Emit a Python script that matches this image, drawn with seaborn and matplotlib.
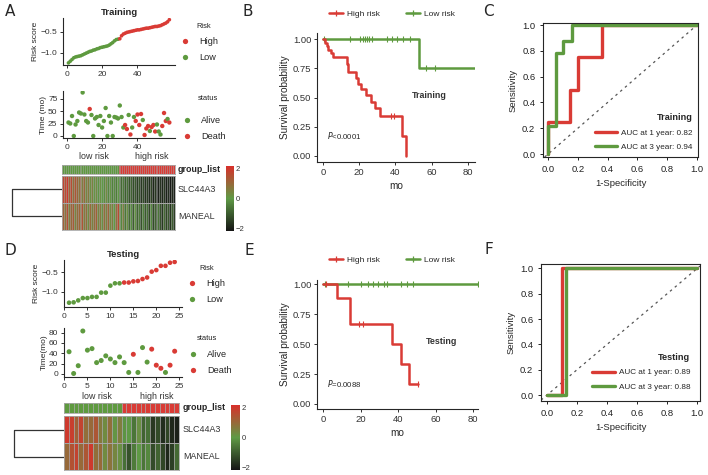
import numpy as np
import matplotlib
matplotlib.use("Agg")
import matplotlib.pyplot as plt
import seaborn as sns
from matplotlib.colors import LinearSegmentedColormap, ListedColormap
from matplotlib.lines import Line2D

# ---------------- training cohort ----------------
train_risk = [-1.24, -1.20, -1.16, -1.12, -1.10, -1.09, -1.08, -1.07, -1.05, -1.03,
              -1.01, -0.99, -0.97, -0.96, -0.94, -0.93, -0.91, -0.90, -0.88, -0.87,
              -0.86, -0.85, -0.84, -0.82, -0.79, -0.76, -0.72, -0.69, -0.68, -0.67,
              -0.60, -0.56, -0.54, -0.52, -0.51, -0.50, -0.49, -0.48, -0.47, -0.46,
              -0.46, -0.45, -0.44, -0.43, -0.42, -0.42, -0.41, -0.40, -0.39, -0.38,
              -0.38, -0.37, -0.36, -0.34, -0.32, -0.30, -0.27, -0.22]
train_time = [27, 25, 40, 0, 23, 30, 47, 45, 87, 43,
              30, 27, 54, 42, 0, 35, 38, 22, 40, 17,
              30, 56, 0, 40, 27, 0, 38, 37, 35, 61,
              38, 17, 22, 14, 42, 3, 17, 38, 30, 43,
              22, 44, 32, 2, 15, 20, 10, 18, 22, 9,
              23, 9, 3, 20, 46, 30, 34, 27]
train_death = [0, 0, 0, 0, 0, 0, 0, 0, 0, 0,
               0, 0, 1, 0, 0, 0, 0, 0, 0, 0,
               0, 0, 0, 0, 0, 0, 0, 0, 0, 0,
               0, 0, 1, 1, 0, 1, 0, 0, 1, 1,
               1, 1, 0, 1, 1, 1, 0, 1, 1, 1,
               0, 0, 0, 1, 1, 1, 0, 1]
train_slc44a3 = [1.8, 1.5, 2.0, 1.2, 1.6, 0.9, 1.4, 1.1, 0.8, 1.3,
                 0.6, 1.0, 0.4, 0.7, 0.2, 0.5, 0.1, 0.3, -0.1, 0.2,
                 0.0, -0.2, 0.3, -0.3, 0.1, -0.4, -0.2, -0.5, 0.0, -0.6,
                 -0.8, -0.5, -1.0, -0.7, -1.2, -0.9, -1.3, -1.1, -1.5, -1.2,
                 -1.6, -1.3, -1.7, -1.5, -1.8, -1.4, -1.9, -1.6, -1.8, -2.0,
                 -1.7, -1.9, -1.6, -2.0, -1.8, -2.1, -1.9, -2.0]
train_maneal = [1.2, 0.8, 1.5, 0.6, 1.0, 1.3, 0.5, 0.9, 1.1, 0.7,
                1.4, 0.6, 0.9, 0.3, 1.0, 0.5, 0.8, 1.2, 0.4, 0.7,
                0.2, 0.9, 0.5, 1.1, 0.3, 0.6, 0.0, 0.8, 1.6, 0.4,
                -0.3, 0.5, -0.6, 0.2, -0.8, -0.2, -1.0, 0.1, -0.9, -0.5,
                -1.2, -0.4, -1.1, -0.7, -1.4, -0.3, -1.3, -0.9, -1.5, -0.6,
                -1.2, -1.6, -0.8, -1.4, -1.1, -1.7, -1.0, -1.5]

train_km_high_t = [0, 1.0, 2.0, 3.0, 4.2, 5.5, 13.0, 14.0, 18.5, 19.5, 21.0, 24.0, 26.5, 29.0, 31.5, 43.5, 45.8]
train_km_high_s = [1.0, 0.97, 0.94, 0.91, 0.88, 0.85, 0.79, 0.72, 0.67, 0.62, 0.57, 0.52, 0.46, 0.41, 0.34, 0.17, 0.0]
train_km_high_end = 45.8
train_km_high_cens = [37.5, 39.0]
train_km_low_t = [0, 53.0]
train_km_low_s = [1.0, 0.75]
train_km_low_end = 84.0
train_km_low_cens = [0.7, 15, 20.5, 21.9, 23.4, 24.5, 25.6, 26.9, 35.2, 38, 40.7, 44.4, 48.1, 56.8, 62.1]
train_p = "<0.0001"

train_roc1_fpr = [0, 0, 0.15, 0.15, 0.20, 0.20, 0.36, 0.36, 1.0]
train_roc1_tpr = [0, 0.25, 0.25, 0.50, 0.50, 0.75, 0.75, 1.0, 1.0]
train_roc3_fpr = [0, 0, 0.05, 0.05, 0.10, 0.10, 0.16, 0.16, 1.0]
train_roc3_tpr = [0, 0.22, 0.22, 0.78, 0.78, 0.88, 0.88, 1.0, 1.0]
train_auc = [0.82, 0.94]

# ---------------- testing cohort ----------------
test_risk = [-1.28, -1.27, -1.22, -1.16, -1.16, -1.13, -1.13, -1.02, -1.02, -0.84, -0.78, -0.78,
             -0.76, -0.76, -0.73, -0.72, -0.67, -0.63, -0.48, -0.44, -0.33, -0.33, -0.25, -0.23]
test_time = [43, 1, 16, 83, 46, 49, 22, 26, 35, 29, 22, 33,
             22, 3, 38, 3, 51, 23, 48, 17, 11, 3, 17, 44]
test_death = [0, 0, 0, 0, 0, 0, 0, 0, 0, 0, 0, 0,
              0, 0, 1, 0, 0, 0, 1, 1, 1, 0, 1, 1]
test_slc44a3 = [2.0, 1.9, 1.2, 1.8, 0.9, 1.0, 1.4, 0.7, 0.3, 0.9, 0.1, 0.6,
                -0.1, 0.0, -0.6, 0.2, -0.9, -0.7, -1.6, -1.3, -1.8, -1.4, -1.9, -2.0]
test_maneal = [1.0, 1.5, 1.8, 1.0, 1.4, 2.0, 0.9, 1.0, 0.3, 0.8, 0.4, 0.2,
               -0.7, -1.2, -0.5, 0.0, -0.6, -0.3, -1.3, -0.9, -1.4, -1.9, -1.5, -0.8]

test_km_high_t = [0, 7.6, 14.4, 36.9, 41.7, 45.7]
test_km_high_s = [1.0, 0.889, 0.667, 0.5, 0.333, 0.167]
test_km_high_end = 50.4
test_km_high_cens = [1.6, 19.3, 21.1, 50.4]
test_km_low_t = [0]
test_km_low_s = [1.0]
test_km_low_end = 82.3
test_km_low_cens = [1.0, 13.5, 20, 24.1, 26.8, 29.4, 32.4, 34.2, 41.3, 44.9, 47.7, 82.3]
test_p = "=0.0088"

test_roc1_fpr = [0, 0.10, 0.10, 1.0]
test_roc1_tpr = [0, 0, 1.0, 1.0]
test_roc3_fpr = [0, 0.125, 0.125, 1.0]
test_roc3_tpr = [0, 0, 1.0, 1.0]
test_auc = [0.89, 0.88]

genes = ["SLC44A3", "MANEAL"]

# ---------------- style ----------------
RED = "#d93b35"
GREEN = "#5e9a3f"
GRID = "#a8a8a8"
sns.set_theme(style="ticks")
plt.rcParams["font.family"] = ["Liberation Sans", "DejaVu Sans"]
plt.rcParams["axes.linewidth"] = 0.8
plt.rcParams["xtick.major.size"] = 2.5
plt.rcParams["ytick.major.size"] = 2.5
plt.rcParams["xtick.major.width"] = 0.7
plt.rcParams["ytick.major.width"] = 0.7
plt.rcParams["xtick.major.pad"] = 1.5
plt.rcParams["ytick.major.pad"] = 1.5

heat_cmap = LinearSegmentedColormap.from_list("gr", ["#151515", "#5f9a45", "#d8302b"])
group_cmap = ListedColormap([GREEN, RED])

W, H = 708, 475
fig = plt.figure(figsize=(W / 100, H / 100), dpi=100)


def add_ax(x0, y0, x1, y1):
    return fig.add_axes([x0 / W, 1 - y1 / H, (x1 - x0) / W, (y1 - y0) / H])


def fig_pt(x, y):
    return (x / W, 1 - y / H)


def panel_label(x, y, s):
    fig.text(x / W, 1 - y / H, s, fontsize=11, ha="left", va="center",
             family=["Liberation Sans Narrow", "DejaVu Sans"])


def dot_legend(ax, labels, colors, title, title_xy, box_xy):
    fig.text(*fig_pt(*title_xy), title, fontsize=5.4, ha="left", va="center", color="#222222")
    handles = [Line2D([], [], ls="", marker="o", ms=3.8, color=c, mec="none") for c in colors]
    ax.legend(handles, labels, loc="upper left",
              bbox_to_anchor=fig_pt(*box_xy), bbox_transform=fig.transFigure,
              frameon=False, fontsize=6.6, handletextpad=1.0,
              labelspacing=0.8, borderaxespad=0, borderpad=0, handlelength=1.0)


def grid_lines(ax, n_cols, n_rows, lw):
    # thin cell borders drawn separately so narrow cells keep their colour
    ax.vlines(np.arange(1, n_cols), 0, n_rows, color=GRID, lw=lw, alpha=0.9)
    if n_rows > 1:
        ax.hlines(np.arange(1, n_rows), 0, n_cols, color=GRID, lw=0.7)
    for sp in ax.spines.values():
        sp.set_visible(True)
        sp.set_color(GRID)
        sp.set_linewidth(0.6)


def risk_panel(box_risk, box_time, risk, time, death, xlim, xticks, ylim_r, ylim_t,
               yticks_t, title, size, leg, time_label):
    idx = np.arange(1, len(risk) + 1)
    risk = np.asarray(risk)
    group = np.where(risk > np.median(risk), "High", "Low")
    status = np.where(np.asarray(death) == 1, "Death", "Alive")

    ax = add_ax(*box_risk)
    sns.scatterplot(x=idx, y=risk, hue=group, palette={"High": RED, "Low": GREEN},
                    s=size[0], edgecolor="none", legend=False, ax=ax)
    ax.set_xlim(*xlim)
    ax.set_ylim(*ylim_r)
    ax.set_xticks(xticks)
    ax.set_ylabel("Risk score", fontsize=6, labelpad=1)
    ax.set_title(title, fontsize=6.8, fontweight="bold", pad=2)
    ax.tick_params(labelsize=6, colors="#333333")
    sns.despine(ax=ax)
    dot_legend(ax, ["High", "Low"], [RED, GREEN], "Risk", leg[0], leg[1])

    ax2 = add_ax(*box_time)
    sns.scatterplot(x=idx, y=time, hue=status, palette={"Death": RED, "Alive": GREEN},
                    s=size[1], edgecolor="none", legend=False, ax=ax2)
    ax2.set_xlim(*xlim)
    ax2.set_ylim(*ylim_t)
    ax2.set_xticks(xticks)
    ax2.set_yticks(yticks_t)
    ax2.set_ylabel(time_label, fontsize=6, labelpad=1)
    ax2.tick_params(labelsize=6, colors="#333333")
    sns.despine(ax=ax2)
    dot_legend(ax2, ["Alive", "Death"], [GREEN, RED], "status", leg[2], leg[3])
    ax2.text(0.28, -0.40, "low risk", transform=ax2.transAxes, ha="center", va="center",
             fontsize=6.4, color="#333333")
    ax2.text(0.79, -0.40, "high risk", transform=ax2.transAxes, ha="center", va="center",
             fontsize=6.4, color="#333333")
    return group


def heat_panel(box_group, box_heat, box_dend, box_cbar, group, rows, label_x, lw):
    ax_g = add_ax(*box_group)
    gvals = (np.asarray(group) == "High").astype(int)[None, :]
    sns.heatmap(gvals, cmap=group_cmap, vmin=0, vmax=1, cbar=False, linewidths=0,
                xticklabels=False, yticklabels=False, ax=ax_g)
    grid_lines(ax_g, gvals.shape[1], 1, lw)
    pos = ax_g.get_position()
    fig.text(label_x / W, pos.y0 + pos.height / 2, "group_list", fontsize=6.4,
             fontweight="bold", va="center", ha="left")

    ax_h = add_ax(*box_heat)
    cax = add_ax(*box_cbar)
    data = np.array(rows)
    sns.heatmap(data, cmap=heat_cmap, vmin=-2.2, vmax=2.2, linewidths=0,
                xticklabels=False, yticklabels=False,
                cbar_ax=cax, cbar_kws={"ticks": [-2, 0, 2]}, ax=ax_h)
    grid_lines(ax_h, data.shape[1], data.shape[0], lw)
    cax.tick_params(labelsize=5.5, length=0, pad=1, colors="#333333")
    cax.set_yticklabels(["\u22122", "0", "2"])
    for sp in cax.spines.values():
        sp.set_visible(False)
    pos = ax_h.get_position()
    for i, g in enumerate(genes):
        fig.text(label_x / W, pos.y1 - (i + 0.5) * pos.height / len(genes), g,
                 fontsize=6.4, va="center", ha="left", color="#333333")

    ax_d = add_ax(*box_dend)
    d = np.sqrt(np.sum((data[0] - data[1]) ** 2))
    ax_d.plot([0, d, d, 0], [0.5, 0.5, 1.5, 1.5], color="#333333", lw=0.9)
    ax_d.set_xlim(d * 1.05, 0)
    ax_d.set_ylim(2, 0)
    ax_d.axis("off")


def km_line(ax, t, s, end, cens, color):
    xs = list(t) + [end]
    ys = list(s) + [s[-1]]
    sns.lineplot(x=xs, y=ys, drawstyle="steps-post", estimator=None, sort=False,
                 color=color, lw=1.8, ax=ax)
    t_arr = np.asarray(t)
    cy = [s[np.searchsorted(t_arr, c, side="right") - 1] for c in cens]
    ax.plot(cens, cy, ls="", marker="|", ms=4, mew=0.8, color=color)


def km_panel(box, high, low, xlim, ylim, p_text, title, title_x, leg_y):
    ax = add_ax(*box)
    km_line(ax, *low, GREEN)
    km_line(ax, *high, RED)
    ax.set_xlim(*xlim)
    ax.set_ylim(*ylim)
    ax.set_xticks([0, 20, 40, 60, 80])
    ax.set_yticks([0, 0.25, 0.5, 0.75, 1.0])
    ax.set_yticklabels(["0.00", "0.25", "0.50", "0.75", "1.00"])
    ax.tick_params(labelsize=6.8, colors="#333333")
    ax.set_xlabel("mo", fontsize=7.2, labelpad=3)
    ax.set_ylabel("Survival probability", fontsize=7.2, labelpad=2)
    sns.despine(ax=ax)
    ax.text(2, 0.17, r"$\mathit{P}$" + p_text, fontsize=5.6, va="center", ha="left")
    ax.text(title_x, 0.52, title, fontsize=6.4, fontweight="bold", va="center", ha="center",
            color="#333333")
    handles = [Line2D([], [], color=RED, lw=1.8, marker="+", ms=5, mew=0.9),
               Line2D([], [], color=GREEN, lw=1.8, marker="+", ms=5, mew=0.9)]
    ax.legend(handles, ["High risk", "Low risk"], loc="center", ncol=2,
              bbox_to_anchor=fig_pt(392, leg_y), bbox_transform=fig.transFigure,
              frameon=False, fontsize=6, handlelength=1.6, columnspacing=3.2,
              handletextpad=0.5)


def roc_panel(box, roc1, roc3, auc, title, xlim, ylim, pad):
    ax = add_ax(*box)
    ax.axline((0, 0), slope=1, color="#555555", lw=0.9, ls=(0, (2, 3)))
    sns.lineplot(x=roc1[0], y=roc1[1], estimator=None, sort=False, color=RED, lw=2.4, ax=ax)
    sns.lineplot(x=roc3[0], y=roc3[1], estimator=None, sort=False, color=GREEN, lw=2.4, ax=ax)
    ax.set_xlim(*xlim)
    ax.set_ylim(*ylim)
    ticks = [0, 0.2, 0.4, 0.6, 0.8, 1.0]
    ax.set_xticks(ticks)
    ax.set_yticks(ticks)
    ax.set_xticklabels([f"{v:.1f}" for v in ticks])
    ax.set_yticklabels([f"{v:.1f}" for v in ticks])
    ax.tick_params(labelsize=6.8, colors="#222222", pad=3)
    ax.set_xlabel("1-Specificity", fontsize=6.8, labelpad=4)
    ax.set_ylabel("Sensitivity", fontsize=6.8, labelpad=3)
    handles = [Line2D([], [], color=RED, lw=2.4), Line2D([], [], color=GREEN, lw=2.4)]
    labels = [f"AUC at 1 year: {auc[0]:.2f}", f"AUC at 3 year: {auc[1]:.2f}"]
    ax.legend(handles, labels, title=title, loc="lower right", frameon=False,
              fontsize=5.9, title_fontproperties={"weight": "bold", "size": 6.6},
              handlelength=2.8, handletextpad=0.4, labelspacing=0.85,
              borderaxespad=pad, alignment="right")


# ---------------- A ----------------
train_group = risk_panel((63, 18, 175, 65), (63, 91, 175, 138), train_risk, train_time,
                         train_death, (-2.1, 61.2), [0, 20, 40], (-1.29, -0.18), (-4, 90),
                         [0, 25, 50, 75], "Training", (7, 10),
                         [(196, 26), (180.5, 37), (198, 99), (182.5, 116)], "Time (mo)")
heat_panel((62, 165, 175, 174), (62, 176, 175, 230), (10, 176, 62, 230), (226, 166, 234, 231),
           train_group, [train_slc44a3, train_maneal], 178, 0.4)

# ---------------- D ----------------
test_group = risk_panel((64, 260, 182, 307), (64, 328, 182, 377), test_risk, test_time,
                        test_death, (-0.1, 25.6), [0, 5, 10, 15, 20, 25], (-1.39, -0.18),
                        (-5.8, 88.8), [0, 20, 40, 60, 80], "Testing", (11, 13),
                        [(199, 269), (187.5, 279), (197, 338), (188.5, 350)], "Time(mo)")
heat_panel((64, 403, 179, 413), (64, 416, 179, 470), (12, 416, 64, 470), (231, 405, 240, 470),
           test_group, [test_slc44a3, test_maneal], 183, 0.6)

# ---------------- B / E ----------------
km_panel((317, 33, 475, 162),
         (train_km_high_t, train_km_high_s, train_km_high_end, train_km_high_cens),
         (train_km_low_t, train_km_low_s, train_km_low_end, train_km_low_cens),
         (-3.3, 84), (-0.054, 1.054), train_p, "Training", 59, 14)
km_panel((317, 280, 478, 409),
         (test_km_high_t, test_km_high_s, test_km_high_end, test_km_high_cens),
         (test_km_low_t, test_km_low_s, test_km_low_end, test_km_low_cens),
         (-3.2, 82.5), (-0.042, 1.036), test_p, "Testing", 63, 260)

# ---------------- C / F ----------------
roc_panel((543, 23, 698, 157), (train_roc1_fpr, train_roc1_tpr), (train_roc3_fpr, train_roc3_tpr),
          train_auc, "Training", (-0.034, 1.007), (-0.023, 1.016), 0.3)
roc_panel((541, 264, 700, 401), (test_roc1_fpr, test_roc1_tpr), (test_roc3_fpr, test_roc3_tpr),
          test_auc, "Testing", (-0.038, 1.018), (-0.045, 1.034), 0.8)

panel_label(5, 12, "A")
panel_label(243, 11, "B")
panel_label(483, 11, "C")
panel_label(5, 251, "D")
panel_label(244, 251, "E")
panel_label(484, 250, "F")

fig.savefig("out.png", dpi=100)
